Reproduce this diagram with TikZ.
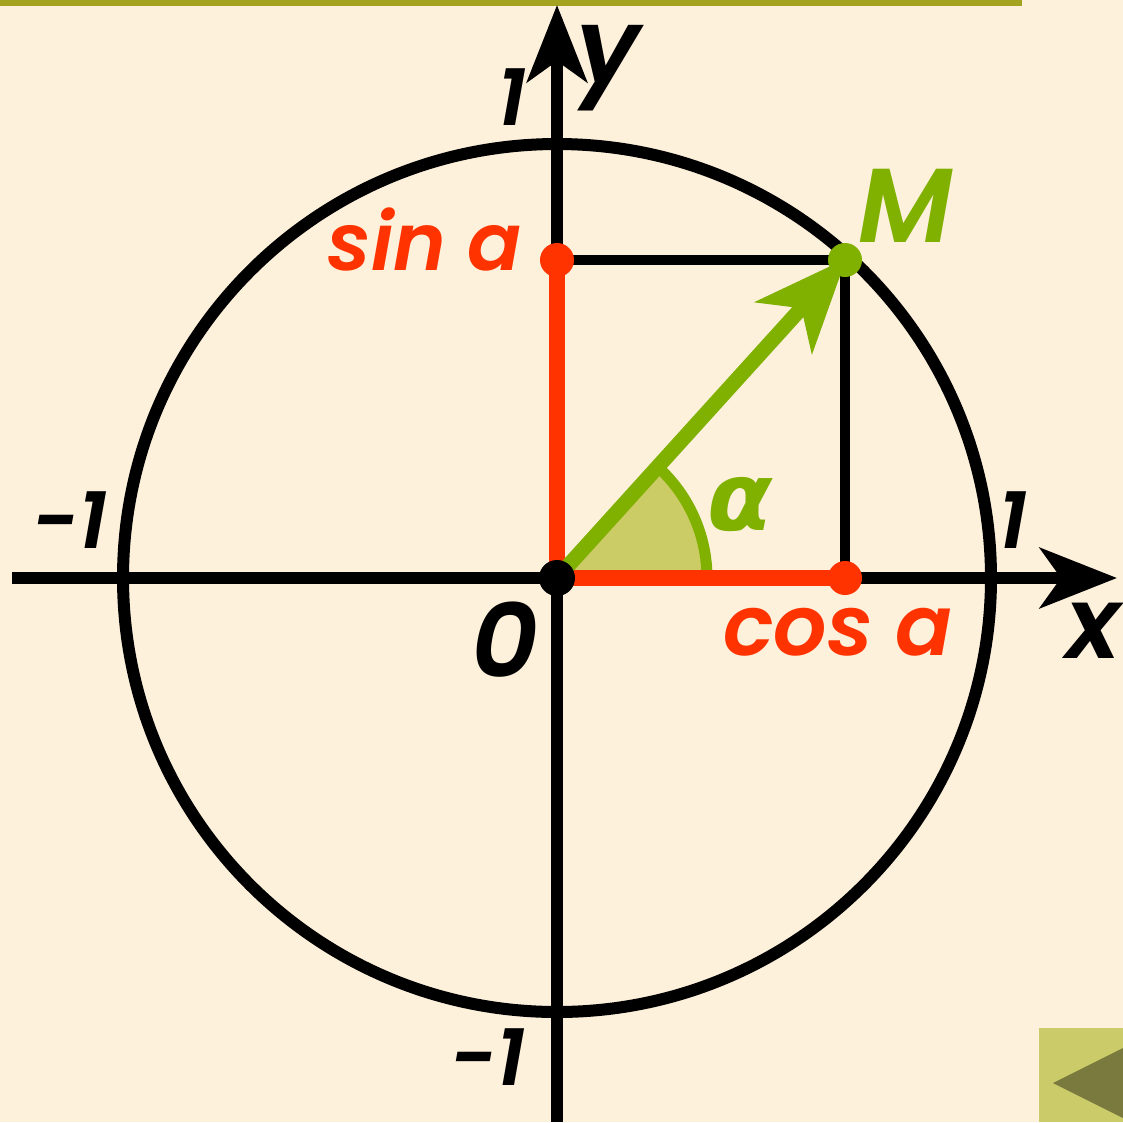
\documentclass[tikz,border=0pt]{standalone}
\usepackage{fontspec}
\setmainfont{Poppins}[BoldFont=* SemiBold, BoldItalicFont=* SemiBold Italic]
\newfontfamily\grk{DejaVu Sans}
\usetikzlibrary{arrows.meta}
\definecolor{bg}{HTML}{FDF1DC}
\definecolor{redc}{HTML}{FF3300}
\definecolor{grn}{HTML}{80B000}
\definecolor{sect}{HTML}{CCCC66}
\definecolor{topl}{HTML}{A3A320}
\definecolor{btn}{HTML}{CBCB6A}
\definecolor{btntri}{HTML}{7A7A3E}
\tikzset{
  axis/.style={line width=12.5pt, draw=black},
  axtip/.style={-{Stealth[length=77pt,width=60pt,inset=21pt]}},
  projl/.style={line width=10pt, draw=black},
  redl/.style={line width=16pt, draw=redc},
  lbl/.style={inner sep=0pt, anchor=base, font=\bfseries\itshape},
}
\begin{document}
\begin{tikzpicture}[x=1pt,y=-1pt]
\useasboundingbox (0,0) rectangle (1123,1122);
\fill[bg] (0,0) rectangle (1123,1122);
\fill[topl] (0,0) rectangle (1022,6);
% button
\fill[btn] (1039,1028) rectangle (1123,1122);
\fill[btntri] (1053,1083) -- (1123,1048) -- (1123,1118) -- cycle;
% coordinates
\coordinate (O) at (557,578);
\coordinate (M) at (845,260);
\coordinate (S) at (557,260);
\coordinate (C) at (845,578);
\coordinate (xl) at (12,578);
\coordinate (xr) at (1117,578);
\coordinate (yb) at (557,1122);
\coordinate (yt) at (557,5);
% circle
\draw[line width=12pt] (O) circle (434);
% sector
\fill[sect] (O) -- (707,578) arc[start angle=0, end angle=-47.8, radius=150] -- cycle;
\draw[line width=11pt, grn] (707,578) arc[start angle=0, end angle=-47.8, radius=150];
% axes
\draw[axis, axtip] (xl) -- (xr);
\draw[axis, axtip] (yb) -- (yt);
% projections
\draw[projl] (S) -- (M) -- (C);
\draw[redl] (O) -- (S);
\draw[redl] (O) -- (C);
% vector
\draw[line width=15pt, grn, -{Stealth[length=93pt,width=76pt,inset=26pt]}, shorten >=-2pt] (O) -- (M);
% dots
\fill[redc] (S) circle (17);
\fill[redc] (C) circle (17);
\fill[grn] (M) circle (17);
\fill[black] (O) circle (18);
% labels
\node[lbl, font=\fontsize{80}{80}\selectfont\bfseries\itshape] (l1t) at (512,125) {1};
\node[lbl, font=\fontsize{105}{105}\selectfont\bfseries\itshape] (ly) at (608,83) {y};
\node[lbl, font=\fontsize{105}{105}\selectfont\bfseries\itshape, text=grn] (lM) at (906,242) {M};
\node[lbl, anchor=base east, font=\fontsize{80}{80}\selectfont\bfseries\itshape, text=redc] (lsin) at (522,270) {sin a};
\node[lbl, font=\fontsize{80}{80}\selectfont\bfseries\itshape] (lm1l) at (70,548) {-1};
\node[lbl, font=\fontsize{80}{80}\selectfont\bfseries\itshape] (l1r) at (1013,548) {1};
\node[lbl, font=\fontsize{95}{95}\grk\bfseries\itshape, text=grn] (lal) at (740,530) {α};
\node[lbl, font=\fontsize{104}{104}\selectfont\bfseries\itshape] (l0) at (505,677) {0};
\node[lbl, anchor=base west, font=\fontsize{84}{84}\selectfont\bfseries\itshape, text=redc] (lcos) at (723,655) {cos a};
\node[lbl, font=\fontsize{100}{100}\selectfont\bfseries\itshape] (lx) at (1093,658) {x};
\node[lbl, font=\fontsize{80}{80}\selectfont\bfseries\itshape] (lm1b) at (488,1085) {-1};
\end{tikzpicture}
\end{document}
